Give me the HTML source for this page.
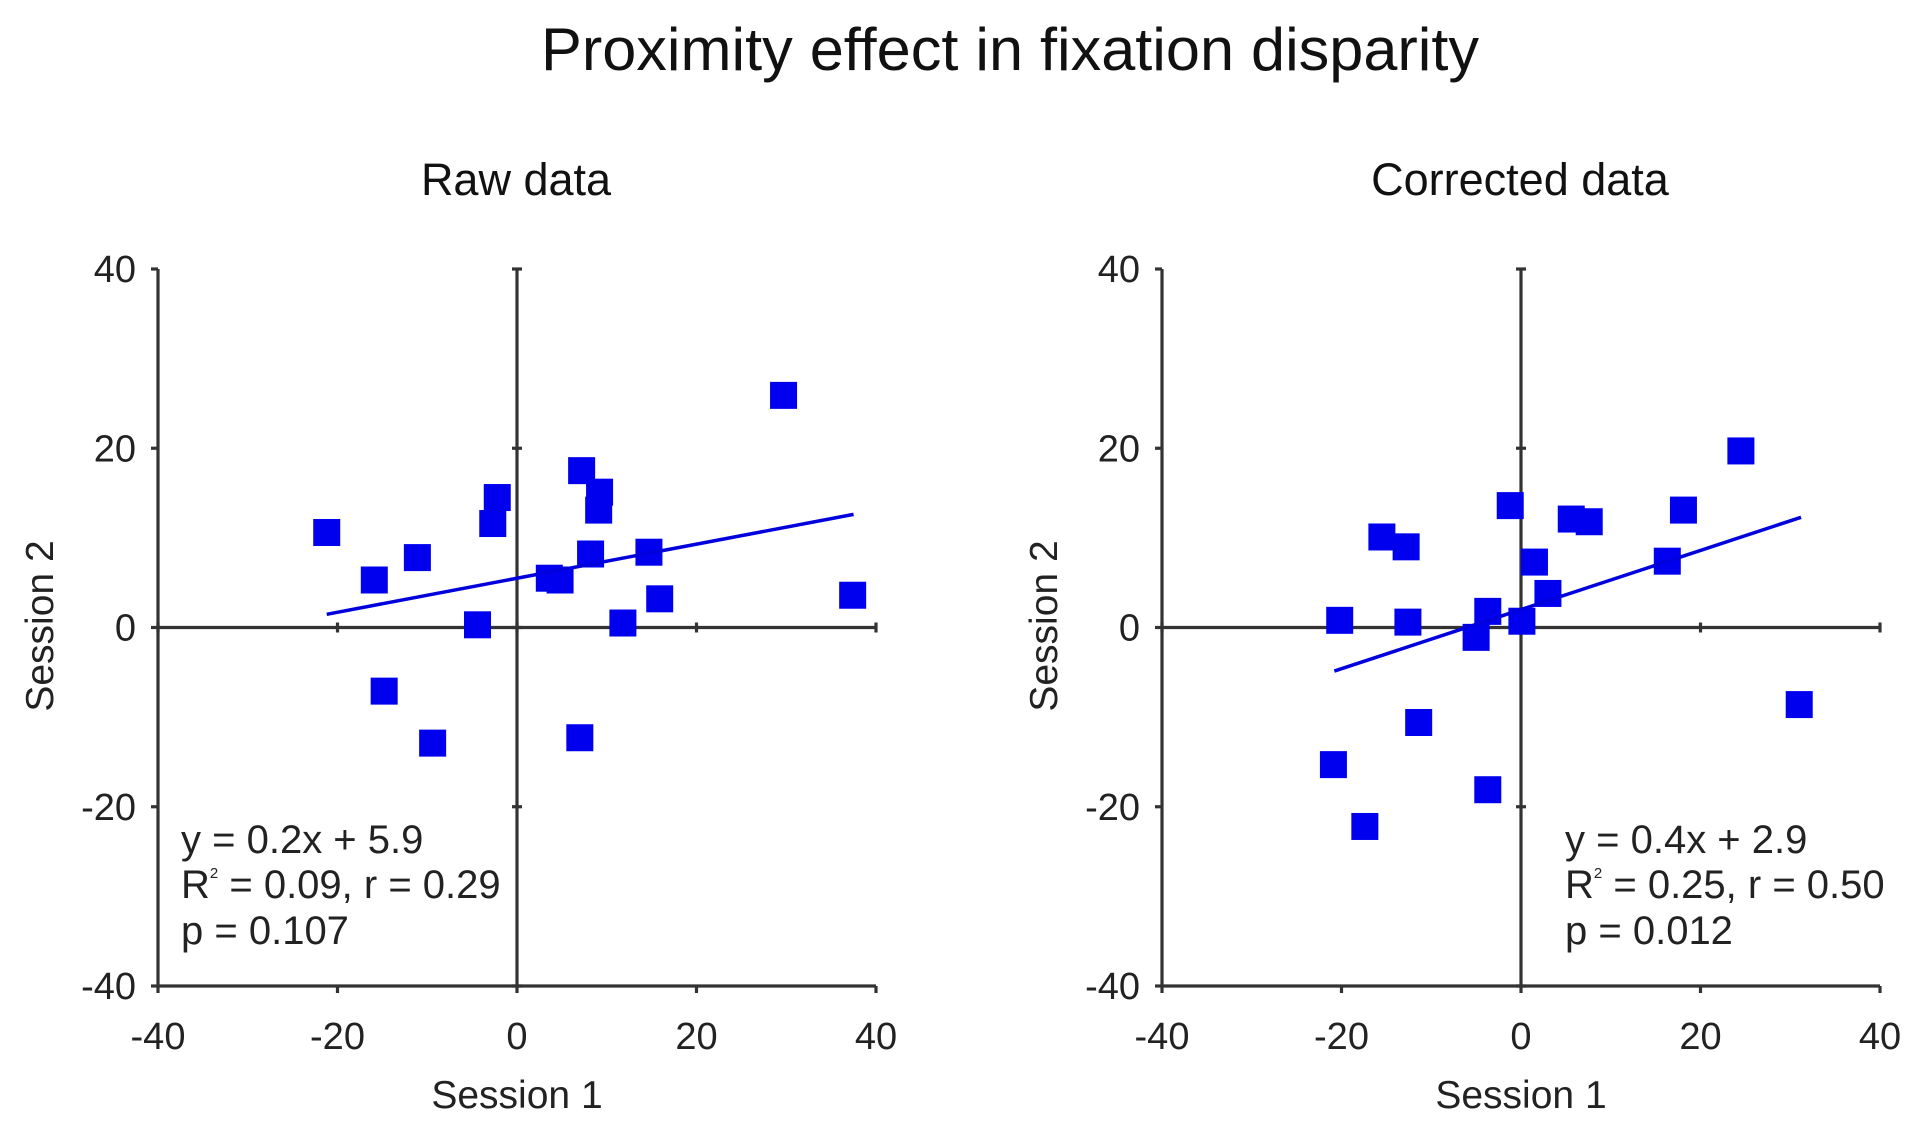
<!DOCTYPE html>
<html><head><meta charset="utf-8">
<style>
html,body{margin:0;padding:0;background:#fff;}
svg{display:block;font-family:"Liberation Sans",Arial,sans-serif;}
</style></head>
<body>
<svg id="chart" width="1918" height="1135" viewBox="0 0 1918 1135" xmlns="http://www.w3.org/2000/svg">
<text x="1010" y="70" font-size="60" text-anchor="middle" fill="#111" textLength="938" lengthAdjust="spacingAndGlyphs">Proximity effect in fixation disparity</text>
<g id="panels"></g>
</svg>
<script>
const ticks = [-40, -20, 0, 20, 40];
const tickLabels = ["-40", "-20", "0", "20", "40"];
const rawX = [-21.2,-15.9,-11.1,-14.8,-9.4,-4.4,-2.7,-2.2,3.6,4.8,7.2,9.2,9.1,8.2,7.0,11.8,14.7,15.9,29.7,37.4];
const rawY = [10.6,5.3,7.8,-7.1,-12.9,0.3,11.6,14.5,5.5,5.3,17.5,15.1,13.1,8.2,-12.3,0.5,8.4,3.2,25.9,3.6];
const corrX = [-20.2,-20.9,-17.4,-15.5,-12.8,-12.6,-11.4,-5.0,-3.7,-3.7,-1.2,0.1,1.5,3.0,5.6,7.6,16.3,18.1,24.5,31.0];
const corrY = [0.8,-15.3,-22.2,10.1,9.0,0.6,-10.6,-1.1,1.8,-18.1,13.6,0.7,7.3,3.8,12.1,11.8,7.4,13.1,19.7,-8.6];
const rawFit = [0.19, 5.5];
const corrFit = [0.33, 2.0];
const rawFitRange = [-21.2, 37.5];
const corrFitRange = [-20.8, 31.2];
const rawStats = ["y = 0.2x + 5.9", "R", " = 0.09, r = 0.29", "p = 0.107"];
const corrStats = ["y = 0.4x + 2.9", "R", " = 0.25, r = 0.50", "p = 0.012"];

const NS = "http://www.w3.org/2000/svg";
const root = document.getElementById('panels');
function mk(tag, attrs, parent){
  const e = document.createElementNS(NS, tag);
  for (const k in attrs) e.setAttribute(k, attrs[k]);
  parent.appendChild(e);
  return e;
}
function panel(key, title, left, xs, ys, fit, range, stats, statX){
  const right = left + 718, top = 269, bottom = 986;
  const sx = v => left + (v + 40) / 80 * (right - left);
  const sy = v => bottom - (v + 40) / 80 * (bottom - top);
  const g = mk('g', {}, root);
  
  
  const t = mk('text', {x: (left + right) / 2 - 1, y: 195, 'font-size': 45, 'text-anchor': 'middle', fill: '#111'}, g);
  t.textContent = title;
  
  
  const ax = {stroke: '#333', 'stroke-width': 3.2, fill: 'none'};
  const yAxis = mk('line', Object.assign({x1: left, y1: top, x2: left, y2: bottom}, ax), g);
  
  
  const xAxis = mk('line', Object.assign({x1: left, y1: bottom, x2: right, y2: bottom}, ax), g);
  
  
  const vz = mk('line', Object.assign({x1: sx(0), y1: top, x2: sx(0), y2: bottom}, ax), g);
  
  
  const hz = mk('line', Object.assign({x1: left, y1: sy(0), x2: right, y2: sy(0)}, ax), g);
  
  
  ticks.forEach((v, i) => {
    mk('line', Object.assign({x1: left - 7, y1: sy(v), x2: left, y2: sy(v)}, ax), g);
    mk('line', Object.assign({x1: sx(0) - 5, y1: sy(v), x2: sx(0) + 5, y2: sy(v)}, ax), g);
    mk('line', Object.assign({x1: sx(v), y1: bottom, x2: sx(v), y2: bottom + 7}, ax), g);
    mk('line', Object.assign({x1: sx(v), y1: sy(0) - 5, x2: sx(v), y2: sy(0) + 5}, ax), g);
    const yl = mk('text', {x: left - 22, y: sy(v) + 13, 'font-size': 38, 'text-anchor': 'end', fill: '#222'}, g);
    yl.textContent = tickLabels[i];
    
    
    const xl = mk('text', {x: sx(v), y: 1049, 'font-size': 38, 'text-anchor': 'middle', fill: '#222'}, g);
    xl.textContent = tickLabels[i];
    
    
  });
  const xt = mk('text', {x: sx(0), y: 1108, 'font-size': 39, 'text-anchor': 'middle', fill: '#222'}, g);
  xt.textContent = 'Session 1';
  
  
  const yx = left - 105;
  const yt = mk('text', {x: yx, y: 626, 'font-size': 39, 'text-anchor': 'middle', fill: '#222', transform: 'rotate(-90 ' + yx + ' 626)'}, g);
  yt.textContent = 'Session 2';
  
  
  xs.forEach((xv, i) => {
    const r = mk('rect', {x: sx(xv) - 13.5, y: sy(ys[i]) - 13.5, width: 27, height: 27, fill: '#0000ee'}, g);
    
    
  });
  const ln = mk('line', {x1: sx(range[0]), y1: sy(fit[0] * range[0] + fit[1]), x2: sx(range[1]), y2: sy(fit[0] * range[1] + fit[1]), stroke: '#0000dd', 'stroke-width': 3.5}, g);
  
  
  const st = mk('g', {'font-size': 40, fill: '#222'}, g);
  
  
  const l1 = mk('text', {x: statX, y: 853}, st); l1.textContent = stats[0];
  const l2 = mk('text', {x: statX, y: 898}, st);
  const a = mk('tspan', {}, l2); a.textContent = stats[1];
  const b = mk('tspan', {'font-size': 15, dy: -20}, l2); b.textContent = '2';
  const c = mk('tspan', {dy: 20}, l2); c.textContent = stats[2];
  const l3 = mk('text', {x: statX, y: 944}, st); l3.textContent = stats[3];
}
panel('raw', 'Raw data', 158, rawX, rawY, rawFit, rawFitRange, rawStats, 181);
panel('corrected', 'Corrected data', 1162, corrX, corrY, corrFit, corrFitRange, corrStats, 1565);
</script>
</body></html>
